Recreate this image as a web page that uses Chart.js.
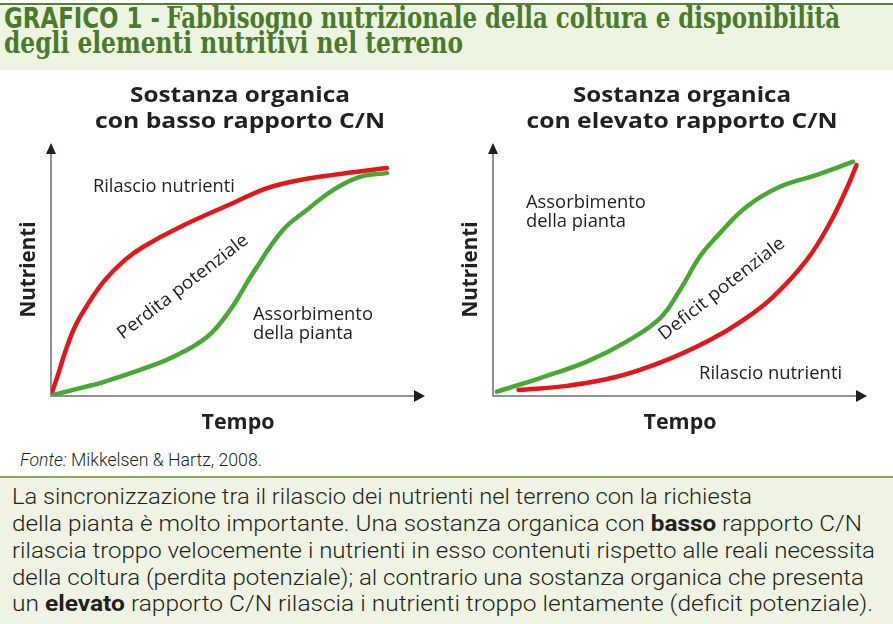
<!DOCTYPE html>
<html>
<head>
<meta charset="utf-8">
<script src="https://cdn.jsdelivr.net/npm/chart.js@4.4.1/dist/chart.umd.min.js"></script>
<style>
  html, body { margin: 0; padding: 0; background: #fff; }
  body { width: 893px; height: 624px; position: relative; overflow: hidden; }
  #head { position: absolute; left: 0; top: 3px; width: 893px; height: 65px;
          background: #eef4e2; border-top: 2px solid #5b7d35; }
  .hl { position: absolute; left: 4px; white-space: nowrap; color: #4b7a2c;
        font-size: 29px; line-height: 29px; transform-origin: 0 0; }
  .cond { font-family: "DejaVu Sans Condensed", "DejaVu Sans", sans-serif; font-weight: bold; font-stretch: condensed; }
  .slab { font-family: "DejaVu Serif Condensed", "DejaVu Serif", serif; font-weight: bold; font-stretch: condensed; }
  .fit { position: absolute; white-space: nowrap; transform-origin: 0 0; }
  #fonte { left: 20px; top: 448px; font-family: Roboto, sans-serif; font-weight: 300;
           font-size: 19px; color: #231f20; }
  #box { position: absolute; left: 0; top: 476px; width: 893px; height: 146px;
         background: #eff3e3; border-top: 2px solid #8fa35f; }
  .tl { left: 12px; font-family: Roboto, sans-serif; font-weight: 300;
        font-size: 22px; color: #231f20; }
  .tl b { font-weight: bold; }
  canvas { position: absolute; }
</style>
</head>
<body>
<div id="head">
  <div class="hl" style="top:-1px" data-w="836"><span class="cond">GRAFICO 1 -</span> <span class="slab">Fabbisogno nutrizionale della coltura e disponibilità</span></div>
  <div class="hl" style="top:24px" data-w="459"><span class="slab">degli elementi nutritivi nel terreno</span></div>
</div>

<div style="position:absolute;left:0;top:70px;width:446px;height:375px"><canvas id="chartBasso"></canvas></div>
<div style="position:absolute;left:446px;top:70px;width:447px;height:375px"><canvas id="chartElevato"></canvas></div>

<div id="fonte" class="fit" data-w="242"><i>Fonte:</i> Mikkelsen &amp; Hartz, 2008.</div>

<div id="box"></div>
<div class="fit tl" style="top:484px" data-w="740">La sincronizzazione tra il rilascio dei nutrienti nel terreno con la richiesta</div>
<div class="fit tl" style="top:511px" data-w="850">della pianta è molto importante. Una sostanza organica con <b>basso</b> rapporto C/N</div>
<div class="fit tl" style="top:538px" data-w="863">rilascia troppo velocemente i nutrienti in esso contenuti rispetto alle reali necessita</div>
<div class="fit tl" style="top:565px" data-w="852">della coltura (perdita potenziale); al contrario una sostanza organica che presenta</div>
<div class="fit tl" style="top:591px" data-w="861">un <b>elevato</b> rapporto C/N rilascia i nutrienti troppo lentamente (deficit potenziale).</div>

<script>
// Grafico sinistro: sostanza organica con basso rapporto C/N
const bassoRilascioTempo = [0.2, 2, 3.7, 6.4, 10, 14.4, 19.8, 24.6, 34.5, 48.7, 57.8, 66.6, 75.4, 89.8];
const bassoRilascioNutr  = [1.1, 9, 17, 27.4, 36.6, 45.8, 53.8, 58.9, 66.8, 76.3, 82.2, 85.4, 87.4, 90.1];
const bassoAssorbTempo   = [0.6, 9.1, 13.1, 23.8, 32.6, 41.7, 47.9, 54, 62, 68.4, 75.4, 82.6, 89.8];
const bassoAssorbNutr    = [0.4, 3.6, 5.1, 10.3, 15.4, 23.3, 34, 48.6, 65.6, 73.5, 81.4, 86.6, 88.1];

// Grafico destro: sostanza organica con elevato rapporto C/N
const elevatoAssorbTempo   = [1, 12.6, 25.1, 35.7, 44.7, 50, 55.3, 59.8, 67.8, 76.7, 86.6, 96.3];
const elevatoAssorbNutr    = [1.7, 7.1, 13.6, 21.5, 30.8, 41.9, 55.1, 63, 74.8, 82.7, 87.4, 92.6];
const elevatoRilascioTempo = [6.8, 19.7, 33.1, 46.4, 58, 66.9, 74.9, 83.9, 90.1, 95, 97.2];
const elevatoRilascioNutr  = [2.4, 4, 7.6, 14.2, 22.1, 30, 39.2, 53.8, 68.4, 83.4, 91.3];

const ROSSO = '#e3161c';
const VERDE = '#47a833';
const TESTO = '#231f20';

function pts(xs, ys)
{
    return xs.map(function (v, i) { return {x: v, y: ys[i]}; });
}

// scrive un testo stirato in orizzontale fino alla larghezza w
function fitText(ctx, text, x, y, w, align)
{
    const m = ctx.measureText(text).width;
    const k = w / m;
    ctx.save();
    ctx.translate(x, y);
    ctx.scale(k, 1);
    ctx.textAlign = align;
    ctx.fillText(text, 0, 0);
    ctx.restore();
}

// frecce degli assi, titoli ed etichette dentro il grafico
const decorPlugin = {
    id: 'decor',
    beforeDatasetsDraw(chart)
    {
        const ctx = chart.ctx;
        const a = chart.chartArea;
        ctx.save();
        ctx.strokeStyle = '#6d6e71';
        ctx.lineWidth = 1.5;
        ctx.beginPath();
        ctx.moveTo(a.left, a.top + 8);
        ctx.lineTo(a.left, a.bottom);
        ctx.lineTo(a.right - 8, a.bottom);
        ctx.stroke();
        ctx.fillStyle = TESTO;
        ctx.beginPath();
        ctx.moveTo(a.left, a.top);
        ctx.lineTo(a.left - 5, a.top + 11);
        ctx.lineTo(a.left + 5, a.top + 11);
        ctx.closePath();
        ctx.fill();
        ctx.beginPath();
        ctx.moveTo(a.right, a.bottom);
        ctx.lineTo(a.right - 11, a.bottom - 6);
        ctx.lineTo(a.right - 11, a.bottom + 6);
        ctx.closePath();
        ctx.fill();
        ctx.restore();
    },
    afterDraw(chart, args, opts)
    {
        const ctx = chart.ctx;
        const a = chart.chartArea;
        const x = chart.scales.x;
        const y = chart.scales.y;
        const cx = (a.left + a.right) / 2;
        ctx.save();
        ctx.fillStyle = TESTO;
        ctx.textBaseline = 'alphabetic';

        ctx.font = 'bold 22px "Open Sans"';
        fitText(ctx, opts.title[0], cx + 2, a.top - 41, opts.titleW[0], 'center');
        fitText(ctx, opts.title[1], cx + 2, a.top - 15, opts.titleW[1], 'center');

        fitText(ctx, 'Tempo', cx, a.bottom + 33, 73, 'center');
        ctx.save();
        ctx.translate(a.left - 22, (a.top + a.bottom) / 2);
        ctx.rotate(-Math.PI / 2);
        ctx.textBaseline = 'middle';
        fitText(ctx, 'Nutrienti', 0, 0, 96, 'center');
        ctx.restore();

        ctx.font = '18px "Open Sans"';
        opts.notes.forEach(function (n) {
            const px = x.getPixelForValue(n.x);
            const py = y.getPixelForValue(n.y);
            ctx.save();
            ctx.translate(px, py);
            if (n.rot) {
                ctx.rotate(n.rot * Math.PI / 180);
                ctx.textBaseline = 'middle';
                fitText(ctx, n.text, 0, 0, n.w, 'center');
            } else {
                fitText(ctx, n.text, 0, 0, n.w, 'left');
            }
            ctx.restore();
        });
        ctx.restore();
    }
};

function drawChart(id, pad, title, titleW, datasets, notes)
{
    const ctx = document.getElementById(id);
    return new Chart(ctx, {
        type: 'line',
        data: { datasets: datasets },
        options: {
            responsive: true,
            maintainAspectRatio: false,
            animation: false,
            layout: { padding: pad },
            elements: { point: { radius: 0 } },
            scales: {
                x: { type: 'linear', min: 0, max: 100, display: false },
                y: { min: 0, max: 100, display: false }
            },
            plugins: {
                legend: { display: false },
                tooltip: { enabled: false },
                decor: { title: title, titleW: titleW, notes: notes }
            }
        },
        plugins: [decorPlugin]
    });
}

function linea(label, xs, ys, colore)
{
    return {
        label: label,
        data: pts(xs, ys),
        borderColor: colore,
        borderWidth: 4.5,
        borderCapStyle: 'round',
        tension: 0.4,
        fill: false
    };
}

drawChart('chartBasso',
    {left: 51, right: 21, top: 73, bottom: 49},
    ['Sostanza organica', 'con basso rapporto C/N'], [220, 290],
    [
        linea('Assorbimento della pianta', bassoAssorbTempo, bassoAssorbNutr, VERDE),
        linea('Rilascio nutrienti', bassoRilascioTempo, bassoRilascioNutr, ROSSO)
    ],
    [
        {text: 'Rilascio nutrienti', x: 11.2, y: 80.6, w: 142},
        {text: 'Perdita potenziale', x: 35.3, y: 43.1, rot: -37.6, w: 160},
        {text: 'Assorbimento', x: 54, y: 30, w: 120},
        {text: 'della pianta', x: 54, y: 22.5, w: 100}
    ]);

drawChart('chartElevato',
    {left: 47, right: 26, top: 73, bottom: 49},
    ['Sostanza organica', 'con elevato rapporto C/N'], [218, 311],
    [
        linea('Rilascio nutrienti', elevatoRilascioTempo, elevatoRilascioNutr, ROSSO),
        linea('Assorbimento della pianta', elevatoAssorbTempo, elevatoAssorbNutr, VERDE)
    ],
    [
        {text: 'Assorbimento', x: 8.8, y: 74.3, w: 120},
        {text: 'della pianta', x: 8.8, y: 66.8, w: 100},
        {text: 'Deficit potenziale', x: 61.2, y: 42.3, rot: -38, w: 155},
        {text: 'Rilascio nutrienti', x: 55.1, y: 6.7, w: 143}
    ]);

// adatta la larghezza delle righe di testo a quella della figura
document.querySelectorAll('[data-w]').forEach(function (el) {
    const w = el.getBoundingClientRect().width;
    const target = parseFloat(el.getAttribute('data-w'));
    el.style.transform = 'scaleX(' + (target / w) + ')';
});
</script>
</body>
</html>
